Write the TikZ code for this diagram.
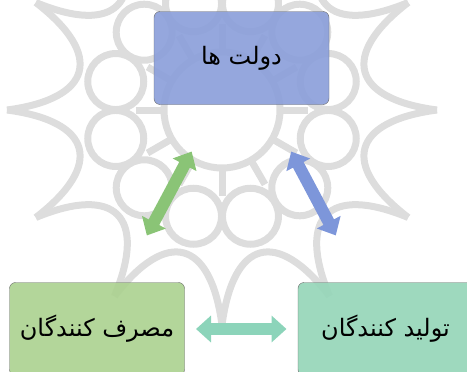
\documentclass[tikz,border=0pt]{standalone}
\usepackage{fontspec}
\usepackage{tikz}
\usetikzlibrary{arrows.meta}
\newfontfamily\arabicfont[Script=Arabic]{DejaVu Sans}
\TeXXeTstate=1
\definecolor{wmgray}{RGB}{221,221,221}
\definecolor{govblue}{RGB}{140,160,218}
\definecolor{consgreen}{RGB}{172,210,145}
\definecolor{prodteal}{RGB}{150,214,185}
\definecolor{arrteal}{RGB}{140,212,186}
\definecolor{arrgreen}{RGB}{138,196,118}
\definecolor{arrblue}{RGB}{125,150,218}

\begin{document}
\begin{tikzpicture}[x=1pt, y=-1pt,
    wm/.style={draw=wmgray, line width=7pt},
    box/.style={draw=black!60, rounded corners=6pt, fill opacity=0.92, text opacity=1,
                minimum width=175pt, minimum height=93pt,
                font=\arabicfont\fontsize{24}{28}\selectfont},
    dbl/.style={line width=12pt, shorten <=#1, shorten >=#1,
                {Triangle[width=26pt,length=15pt]}-{Triangle[width=26pt,length=15pt]}}]
         \path [use as bounding box, clip] (0, 0) rectangle (467, 372);
         % watermark
         \begin{scope}[shift={(222, 110)}]
           \foreach \a in {0,30,...,330} {
             \draw [wm] (\a:215) .. controls (\a+5:130) and (\a+25:130) .. (\a+30:215);
             \draw [wm] (\a+15:110) circle (28);
             \draw [wm] (\a:58) -- (\a:86);
           }
           \draw [wm] (0, 0) circle (58);
         \end{scope}
         \node [box, fill=govblue] (MT) at (241.5, 58) {\beginR دولت ها\endR};
         \node [box, fill=consgreen] (LB) at (97, 329) {\beginR مصرف کنندگان\endR};
         \node [box, fill=prodteal] (RB) at (385.5, 329) {\beginR تولید کنندگان\endR};
         \draw [dbl=106pt, arrgreen] (LB.center) -- (MT.center);
         \draw [dbl=106pt, arrblue] (MT.center) -- (RB.center);
         \draw [dbl=99pt, arrteal] (LB.center) -- (RB.center);
\end{tikzpicture}
\end{document}
